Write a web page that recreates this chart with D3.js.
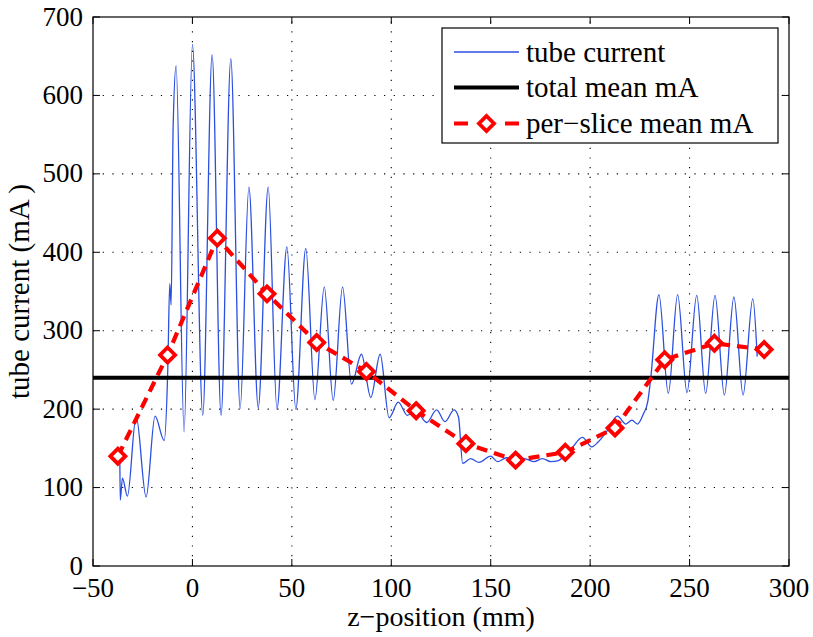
<!DOCTYPE html>
<html>
<head>
<meta charset="utf-8">
<script src="https://cdn.jsdelivr.net/npm/d3@7"></script>
<style>
  body { margin: 0; background: #fff; font-family: "Times New Roman", "Liberation Serif", Tinos, "Nimbus Roman", serif; }
  svg text { font-family: "Times New Roman", "Liberation Serif", Tinos, "Nimbus Roman", serif !important; }
</style>
</head>
<body>
<svg id="chart" width="813" height="637"></svg>
<script>
// ---------- data ----------
const xTicks = [-50, 0, 50, 100, 150, 200, 250, 300];
const yTicks = [0, 100, 200, 300, 400, 500, 600, 700];

// tube current trace (z-position mm, mA)
const tubeZ = [
  -36.5, -36.3, -35.2, -32.7, -28.3, -23.3, -18.8, -14.2, -12.4, -11.4, -10.7, -9.7, -8.2,
  -4.2, 0, 5.2, 9.9, 14.4, 19.3, 24.0, 28.4, 33.1, 38.1, 42.5, 47.5, 52.0, 57.0, 61.6,
  66.3, 70.8, 75.5, 80.0, 85.0, 89.7, 94.4, 98.9, 103.5, 108.1, 112.0, 117.8, 122.8, 127.0,
  131.6, 133.8, 135.9, 139.9, 144.1, 150.0, 153.4, 158.0, 162.0, 167.0, 171.8, 176.0, 180.2,
  183.5, 187.0, 191.0, 196.1, 200.8, 204.0, 208.7, 213.7, 218.0, 221.0, 223.8, 226.8, 229.0,
  230.5, 234.6, 239.3, 244.0, 248.7, 253.6, 258.1, 262.8, 267.5, 272.3, 276.9, 281.8, 284.0
];
const tubeMA = [
  135, 84, 112, 89, 191, 88, 191, 160, 250, 360, 333, 560, 638,
  171, 665, 192, 652, 192, 647, 201, 483, 202, 483, 200, 407, 200, 405, 212,
  356, 211, 356, 232, 270, 215, 270, 189, 209, 192, 199, 183, 199, 184,
  199, 190, 131, 137, 132, 140, 133, 138, 133, 137, 133, 137, 133,
  134, 140, 151, 164, 152, 158, 173, 191, 181, 186, 181, 194, 210,
  240, 346, 220, 346, 221, 345, 220, 345, 218, 343, 218, 341, 267
];

const totalMean = 240;

const sliceZ  = [-37.5, -12.5, 12.5, 37.5, 62.5, 87.5, 112.5, 137.5, 162.5, 187.5, 212.5, 237.5, 262.5, 287.5];
const sliceMA = [140, 269, 418, 347, 285, 248, 198, 156, 135, 145, 176, 263, 284, 276];

const legendLabels = ["tube current", "total mean mA", "per\u2212slice mean mA"];

// ---------- layout ----------
const L = 93, R = 789, T = 17, B = 566;
const svg = d3.select("#chart");
const x = d3.scaleLinear().domain([-50, 300]).range([L, R]);
const y = d3.scaleLinear().domain([0, 700]).range([B, T]);

const blue = "#2b4fe0", red = "#ff0000";

// grid (dotted)
const grid = svg.append("g");
xTicks.filter(d => d > -50 && d < 300).forEach(d => {
  grid.append("line").attr("x1", x(d)).attr("x2", x(d)).attr("y1", B).attr("y2", T)
    .attr("stroke", "#000").attr("stroke-width", 1.1).attr("stroke-dasharray", "1.2,8.5");
});
yTicks.filter(d => d > 0 && d < 700).forEach(d => {
  grid.append("line").attr("x1", L).attr("x2", R).attr("y1", y(d)).attr("y2", y(d))
    .attr("stroke", "#000").attr("stroke-width", 1.1).attr("stroke-dasharray", "1.2,8.5");
});

// clip
svg.append("clipPath").attr("id", "clip").append("rect")
  .attr("x", L).attr("y", T).attr("width", R - L).attr("height", B - T);
const plot = svg.append("g").attr("clip-path", "url(#clip)");

// tube current
const tube = tubeZ.map((z, i) => [z, tubeMA[i]]);
plot.append("path").datum(tube)
  .attr("d", d3.line().x(d => x(d[0])).y(d => y(d[1])).curve(d3.curveMonotoneX))
  .attr("fill", "none").attr("stroke", blue).attr("stroke-width", 1.3);

// total mean
plot.append("line").attr("x1", L).attr("x2", R).attr("y1", y(totalMean)).attr("y2", y(totalMean))
  .attr("stroke", "#000").attr("stroke-width", 4);

// per-slice mean
const slice = sliceZ.map((z, i) => [z, sliceMA[i]]);
plot.append("path").datum(slice)
  .attr("d", d3.line().x(d => x(d[0])).y(d => y(d[1])))
  .attr("fill", "none").attr("stroke", red).attr("stroke-width", 4.2)
  .attr("stroke-dasharray", "11,7");

const diamond = (cx, cy, r) => `M${cx},${cy - r}L${cx + r},${cy}L${cx},${cy + r}L${cx - r},${cy}Z`;
plot.selectAll("path.mk").data(slice).enter().append("path").attr("class", "mk")
  .attr("d", d => diamond(x(d[0]), y(d[1]), 7.5))
  .attr("fill", "#fff").attr("stroke", red).attr("stroke-width", 3.8);

// axes box + inward ticks
const ax = svg.append("g");
ax.append("rect").attr("x", L).attr("y", T).attr("width", R - L).attr("height", B - T)
  .attr("fill", "none").attr("stroke", "#000").attr("stroke-width", 1.2);
const tl = 7;
xTicks.forEach(d => {
  ax.append("line").attr("x1", x(d)).attr("x2", x(d)).attr("y1", B).attr("y2", B - tl).attr("stroke", "#000");
  ax.append("line").attr("x1", x(d)).attr("x2", x(d)).attr("y1", T).attr("y2", T + tl).attr("stroke", "#000");
  ax.append("text").attr("font-size", 27).attr("x", x(d)).attr("y", 597).attr("text-anchor", "middle")
    .text(d < 0 ? "\u2212" + Math.abs(d) : d);
});
yTicks.forEach(d => {
  ax.append("line").attr("x1", L).attr("x2", L + tl).attr("y1", y(d)).attr("y2", y(d)).attr("stroke", "#000");
  ax.append("line").attr("x1", R).attr("x2", R - tl).attr("y1", y(d)).attr("y2", y(d)).attr("stroke", "#000");
  ax.append("text").attr("font-size", 27).attr("x", 83).attr("y", y(d)).attr("dy", "0.32em")
    .attr("text-anchor", "end").text(d);
});

// axis labels
svg.append("text").attr("font-size", 28).attr("x", (L + R) / 2).attr("y", 626)
  .attr("text-anchor", "middle").text("z\u2212position (mm)");
svg.append("text").attr("font-size", 29).attr("transform", `translate(29,${(T + B) / 2}) rotate(-90)`)
  .attr("text-anchor", "middle").text("tube current (mA )");

// legend
const lg = svg.append("g");
lg.append("rect").attr("x", 442).attr("y", 28).attr("width", 336).attr("height", 115)
  .attr("fill", "#fff").attr("stroke", "#000").attr("stroke-width", 1.2);
const rowY = [52, 87.5, 123.5];
lg.append("line").attr("x1", 454).attr("x2", 519).attr("y1", rowY[0]).attr("y2", rowY[0])
  .attr("stroke", blue).attr("stroke-width", 1.3);
lg.append("line").attr("x1", 454).attr("x2", 519).attr("y1", rowY[1]).attr("y2", rowY[1])
  .attr("stroke", "#000").attr("stroke-width", 4);
lg.append("line").attr("x1", 454).attr("x2", 519).attr("y1", rowY[2]).attr("y2", rowY[2])
  .attr("stroke", red).attr("stroke-width", 4.2).attr("stroke-dasharray", "14,37");
lg.append("path").attr("d", diamond(486.5, rowY[2], 7.5))
  .attr("fill", "#fff").attr("stroke", red).attr("stroke-width", 3.8);
legendLabels.forEach((t, i) => {
  lg.append("text").attr("font-size", 29).attr("x", 526).attr("y", rowY[i] + 9.5).text(t);
});
</script>
</body>
</html>
